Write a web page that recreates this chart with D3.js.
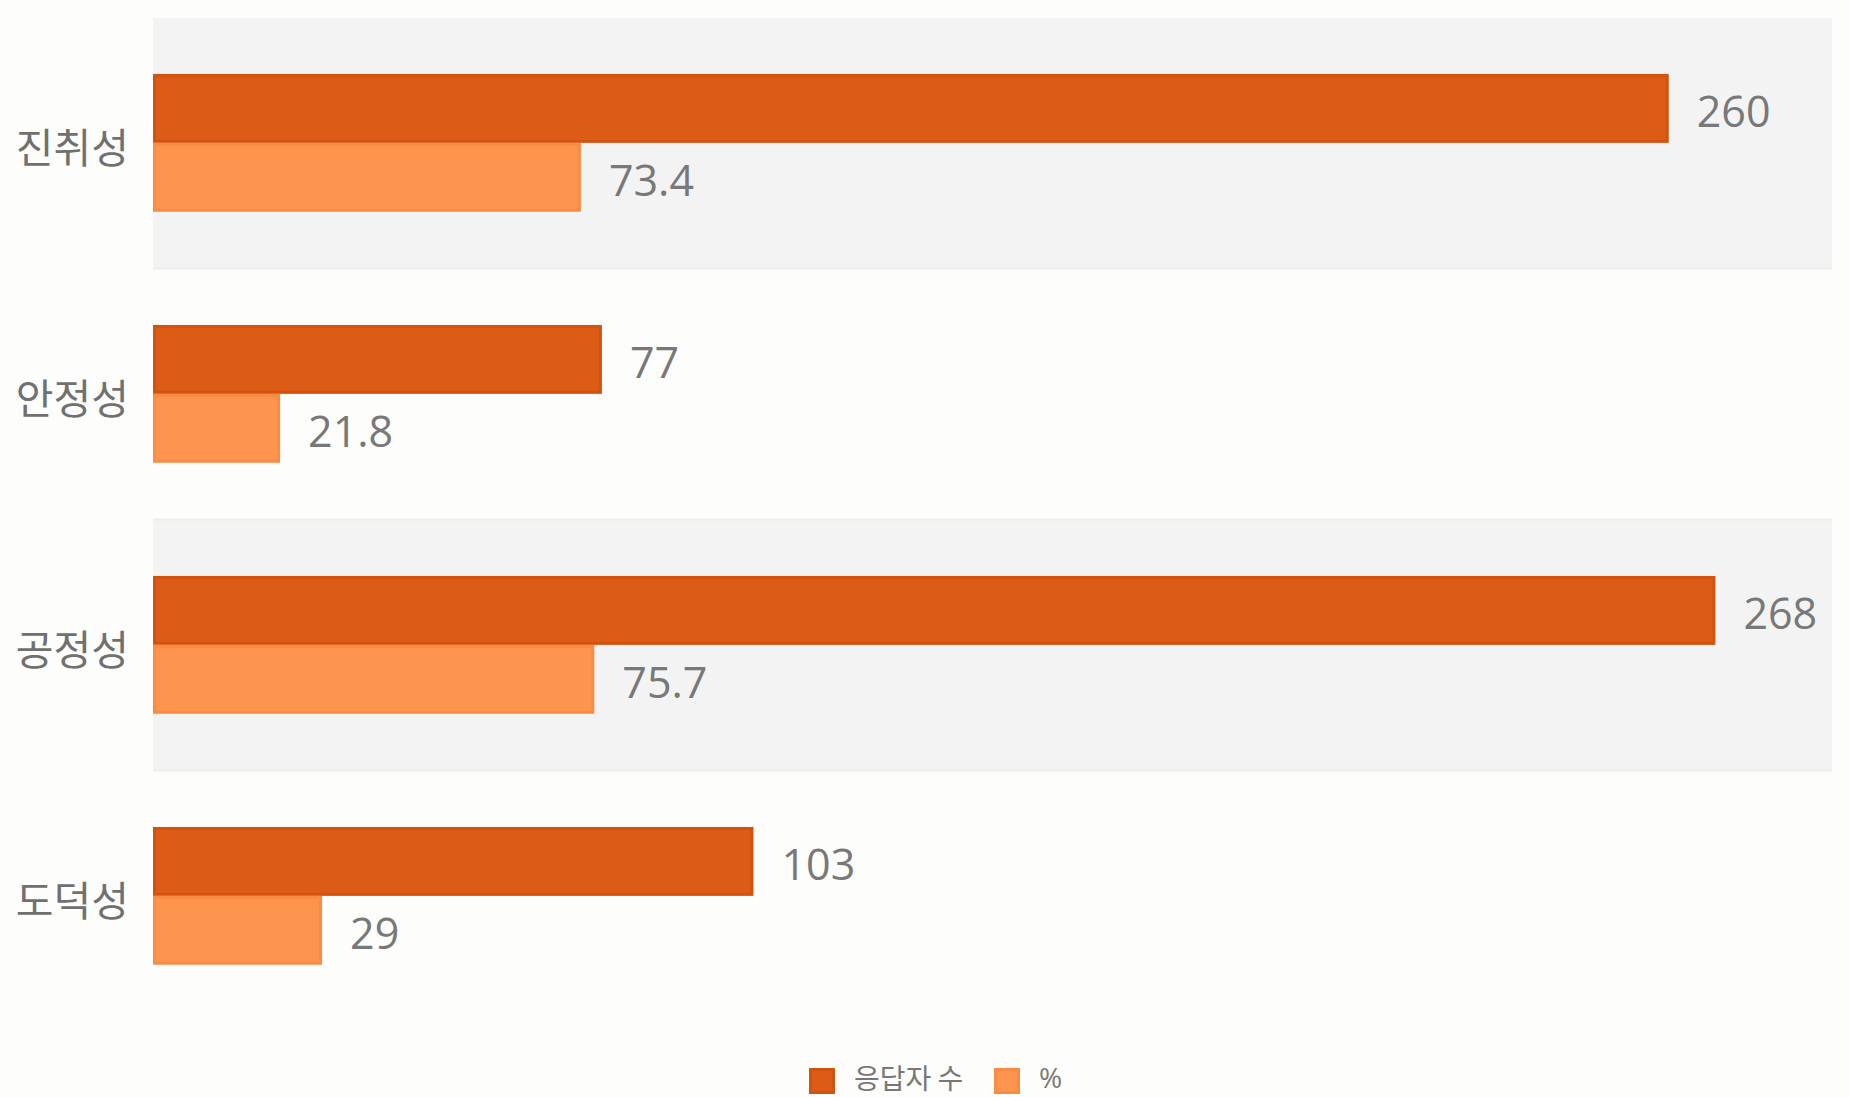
<!DOCTYPE html>
<html><head><meta charset="utf-8">
<script src="https://cdn.jsdelivr.net/npm/d3@7"></script>
<style>
html,body{margin:0;padding:0;background:#fdfdfb;}
svg{display:block;}
text{font-family:"Open Sans","Noto Sans CJK KR","Noto Sans",sans-serif;}
.kr{font-family:"Noto Sans CJK KR","Noto Sans",sans-serif;}
</style></head>
<body>
<svg id="c" width="1849" height="1097"></svg>
<script>
const categories = ["진취성","안정성","공정성","도덕성"];
const seriesNames = ["응답자 수","%"];
const respondents = [260, 77, 268, 103];
const percents = [73.4, 21.8, 75.7, 29];
const seriesColors = ["#dc5c17","#fe954f"];
const seriesStrokes = ["#d3530c","#f98b44"];

const W = 1849, H = 1097;
const svg = d3.select("#c");
svg.append("rect").attr("width",W).attr("height",H).attr("fill","#fdfdfb");

const x = d3.scaleLinear().domain([0, 288]).range([153, 1832]);
const y0 = d3.scaleBand().domain(categories).range([18, 1022]).paddingInner(0).paddingOuter(0);
const step = y0.bandwidth();
const y1 = d3.scaleBand().domain(seriesNames).range([step*0.223, step*0.772]).padding(0);

// bands
svg.append("g").selectAll("rect").data(categories).join("rect")
  .attr("x", x(0)).attr("width", x.range()[1]-x(0))
  .attr("y", d=>y0(d)).attr("height", step)
  .attr("fill", (d,i)=> i%2===0 ? "#f3f3f3" : "#fdfdfb");
svg.append("g").selectAll("line").data(categories.slice(0,3)).join("line")
  .attr("x1", x(0)).attr("x2", x.range()[1])
  .attr("y1", d=>y0(d)+step-0.5).attr("y2", d=>y0(d)+step-0.5)
  .attr("stroke", "#eeeeec").attr("stroke-width", 2);

const data = categories.map((c,i)=>({cat:c, vals:[respondents[i], percents[i]]}));

const g = svg.append("g").selectAll("g").data(data).join("g")
  .attr("transform", d=>`translate(0,${y0(d.cat)})`);

seriesNames.forEach((s,si)=>{
  g.append("rect")
    .attr("x", x(0)+1.5)
    .attr("y", y1(s)+1.5)
    .attr("width", d=>Math.max(0, x(d.vals[si])-x(0)-3))
    .attr("height", y1.bandwidth()-3)
    .attr("fill", seriesColors[si])
    .attr("stroke", seriesStrokes[si])
    .attr("stroke-width", 3);
  g.append("text")
    .attr("x", d=>x(d.vals[si])+28)
    .attr("y", y1(s)+y1.bandwidth()/2+3)
    .attr("dy","0.357em")
    .attr("font-size", 43)
    .attr("fill", "#787878")
    .text(d=>d.vals[si]);
});

// category labels
svg.append("g").selectAll("text").data(categories).join("text")
  .attr("class","kr")
  .attr("x", 129).attr("y", d=>y0(d)+step/2+8)
  .attr("text-anchor","end").attr("dominant-baseline","middle")
  .attr("font-size", 41).attr("fill","#707070")
  .text(d=>d);

// legend
const legend = svg.append("g");
const legX = [809, 994];
seriesNames.forEach((s,i)=>{
  legend.append("rect").attr("x", legX[i]+1.5).attr("y", 1069.5).attr("width", 23).attr("height", 23)
    .attr("fill", seriesColors[i]).attr("stroke", seriesStrokes[i]).attr("stroke-width", 3);
  legend.append("text").attr("class", i===0?"kr":null).attr("x", legX[i]+45).attr("y", 1081)
    .attr("dominant-baseline","middle").attr("font-size", 28).attr("fill","#787878").text(s);
});
</script>
</body></html>
